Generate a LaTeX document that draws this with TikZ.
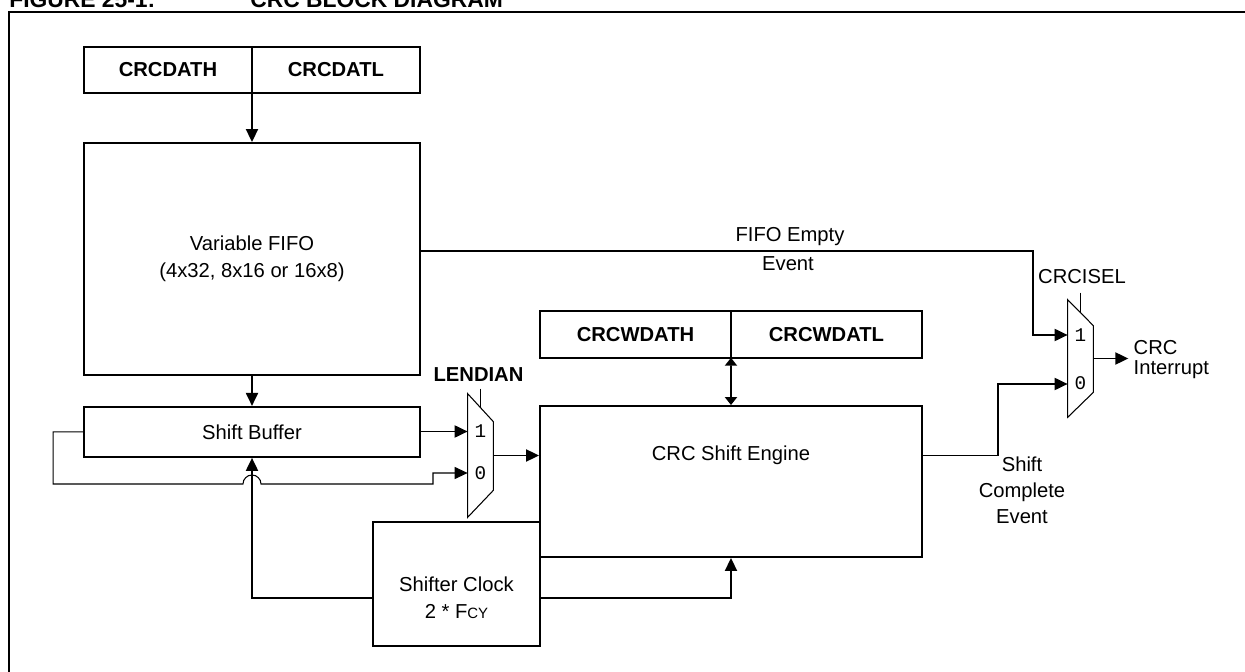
\documentclass[tikz,border=0pt]{standalone}
\usepackage{fontspec}
\setmainfont{Liberation Sans}
\newfontfamily\digitfont{Liberation Mono}
\usetikzlibrary{arrows.meta,calc,positioning}
\tikzset{
  regbox/.style={
    draw=black, line width=1.1pt, inner sep=0pt, outer sep=0pt,
    minimum height=0.93cm, font=\fontsize{11.5}{13}\selectfont\bfseries
  },
  block/.style={
    draw=black, line width=1.1pt, inner sep=0pt, align=center,
    font=\fontsize{11.5}{15.3}\selectfont
  },
  lbl/.style={inner sep=0pt, align=center, font=\fontsize{11.5}{14.7}\selectfont},
  muxbody/.style={minimum width=0.5cm, inner sep=0pt},
  muxdigit/.style={inner sep=0pt, font=\fontsize{11}{12}\digitfont},
  muxline/.style={draw=black, line width=0.6pt},
  flow/.style={-{Triangle[length=2.6mm,width=2.4mm]}, line width=1.1pt},
  thinflow/.style={-{Triangle[length=2.6mm,width=2.4mm]}, line width=0.6pt},
  dualflow/.style={{Triangle[length=1.6mm,width=2.4mm]}-{Triangle[length=1.6mm,width=2.4mm]}, line width=1.1pt}
}
\newcommand{\muxshape}[3]{%
  \draw[muxline] (#1.north west) -- ($(#1.north east)+(0,#2)$)
    -- ($(#1.south east)+(0,-#3)$) -- (#1.south west) -- cycle;}

\begin{document}
\begin{tikzpicture}[x=0.02cm, y=-0.02cm]
    \useasboundingbox (0,0) rectangle (1245,672);
    % caption and frame
    \node[anchor=base west, inner sep=0pt, font=\fontsize{13}{15}\selectfont\bfseries] (fig) at (9,8) {FIGURE 25-1:};
    \node[anchor=base west, inner sep=0pt, font=\fontsize{13}{15}\selectfont\bfseries] (figname) at (250,8) {CRC BLOCK DIAGRAM};
    \draw[line width=1.2pt] (1250,12) -| (9,680);

    % registers and blocks
    \node[regbox, minimum width=3.36cm] (dath) at (168,70) {CRCDATH};
    \node[regbox, minimum width=3.36cm, right=0pt of dath] (datl) {CRCDATL};
    \node[block, minimum width=6.72cm, minimum height=4.64cm] (fifo) at (252,259)
      {Variable FIFO\\(4x32, 8x16 or 16x8)};
    \node[block, minimum width=6.72cm, minimum height=1cm, below=0.6cm of fifo] (sbuf) {Shift Buffer};
    \node[regbox, minimum width=3.82cm] (wdath) at (635.5,334.5) {CRCWDATH};
    \node[regbox, minimum width=3.82cm, right=0pt of wdath] (wdatl) {CRCWDATL};
    \node[block, minimum width=7.64cm, minimum height=3.02cm] (eng) at (731,481.5) {};
    \node[lbl] (engtxt) at ($(eng.center)+(0,-26)$) {CRC Shift Engine};
    \node[block, minimum width=3.34cm, minimum height=2.48cm] (clk) at (456.5,584) {};
    \node[block, draw=none, font=\fontsize{11.5}{15.3}\selectfont] (clktxt) at ($(clk.center)+(0,14)$)
      {Shifter Clock\\2 * F{\fontsize{8.5}{10}\selectfont CY}};

    % multiplexers
    \node[muxbody, minimum height=2.46cm] (lmux) at (480.5,455.5) {};
    \muxshape{lmux}{28}{27}
    \node[muxbody, minimum height=2.34cm] (cmux) at (1080.5,358.5) {};
    \muxshape{cmux}{26}{25}
    \node[muxdigit] (lone) at ($(lmux.center)+(0,-24)$) {1};
    \node[muxdigit] (lzero) at ($(lmux.center)+(0,17.5)$) {0};
    \node[muxdigit] (cone) at ($(cmux.center)+(0,-23)$) {1};
    \node[muxdigit] (czero) at ($(cmux.center)+(0,25)$) {0};
    \node[lbl, font=\fontsize{11.5}{13}\selectfont\bfseries] (lsel) at ($(lmux.north)+(-2,-19)$) {LENDIAN};
    \node[lbl] (csel) at ($(cmux.north)+(1.5,-23)$) {CRCISEL};
    \draw[muxline] ($(lmux.north)+(0,-5)$) -- ($(lmux.north)+(0,13)$);
    \draw[muxline] ($(cmux.north)+(0,-7)$) -- ($(cmux.north)+(0,13.5)$);
    \coordinate (lin1) at ($(lmux.west)+(0,-24)$);
    \coordinate (lin0) at ($(lmux.west)+(0,17.5)$);
    \coordinate (cin1) at ($(cmux.west)+(0,-23.5)$);
    \coordinate (cin0) at ($(cmux.west)+(0,25.5)$);
    \coordinate (irqin) at ($(cmux.east)+(35,0)$);
    \node[lbl, align=left, anchor=west, font=\fontsize{11.5}{11.5}\selectfont] (irq) at ($(irqin)+(5,1)$) {CRC\\Interrupt};

    % data paths
    \draw[flow] (dath.south east) -- (fifo.north);
    \draw[flow] (fifo.south) -- (sbuf.north);
    \draw[flow] (sbuf.east |- lin1) -- (lin1);
    \draw[thinflow] (sbuf.west) -- ++(-30,0) |- (243,484)
      arc[start angle=180, end angle=0, radius=0.18cm] -| (433,473) -- (lin0);
    \draw[flow] (lmux.east) -- (lmux.east -| eng.west);
    \draw[dualflow] (wdath.south east) -- (eng.north);
    \draw[flow] (eng.east |- lmux.east) -- ++(75,0) |- (cin0);
    \draw[flow] ($(fifo.east)+(0,-8)$) -| ($(cin1)+(-35,0)$) -- (cin1);
    \draw[flow] (cmux.east) -- (irqin);
    \draw[flow] ($(clk.west)+(0,14)$) -| (sbuf.south);
    \draw[flow] ($(clk.east)+(0,14)$) -| (eng.south);

    % event labels
    \node[lbl, anchor=base] (fetop) at (790,242) {FIFO Empty};
    \node[lbl, anchor=base] (febot) at (788,271) {Event};
    \node[lbl] (sce) at (1022,490) {Shift\\Complete\\Event};
  \end{tikzpicture}
\end{document}
